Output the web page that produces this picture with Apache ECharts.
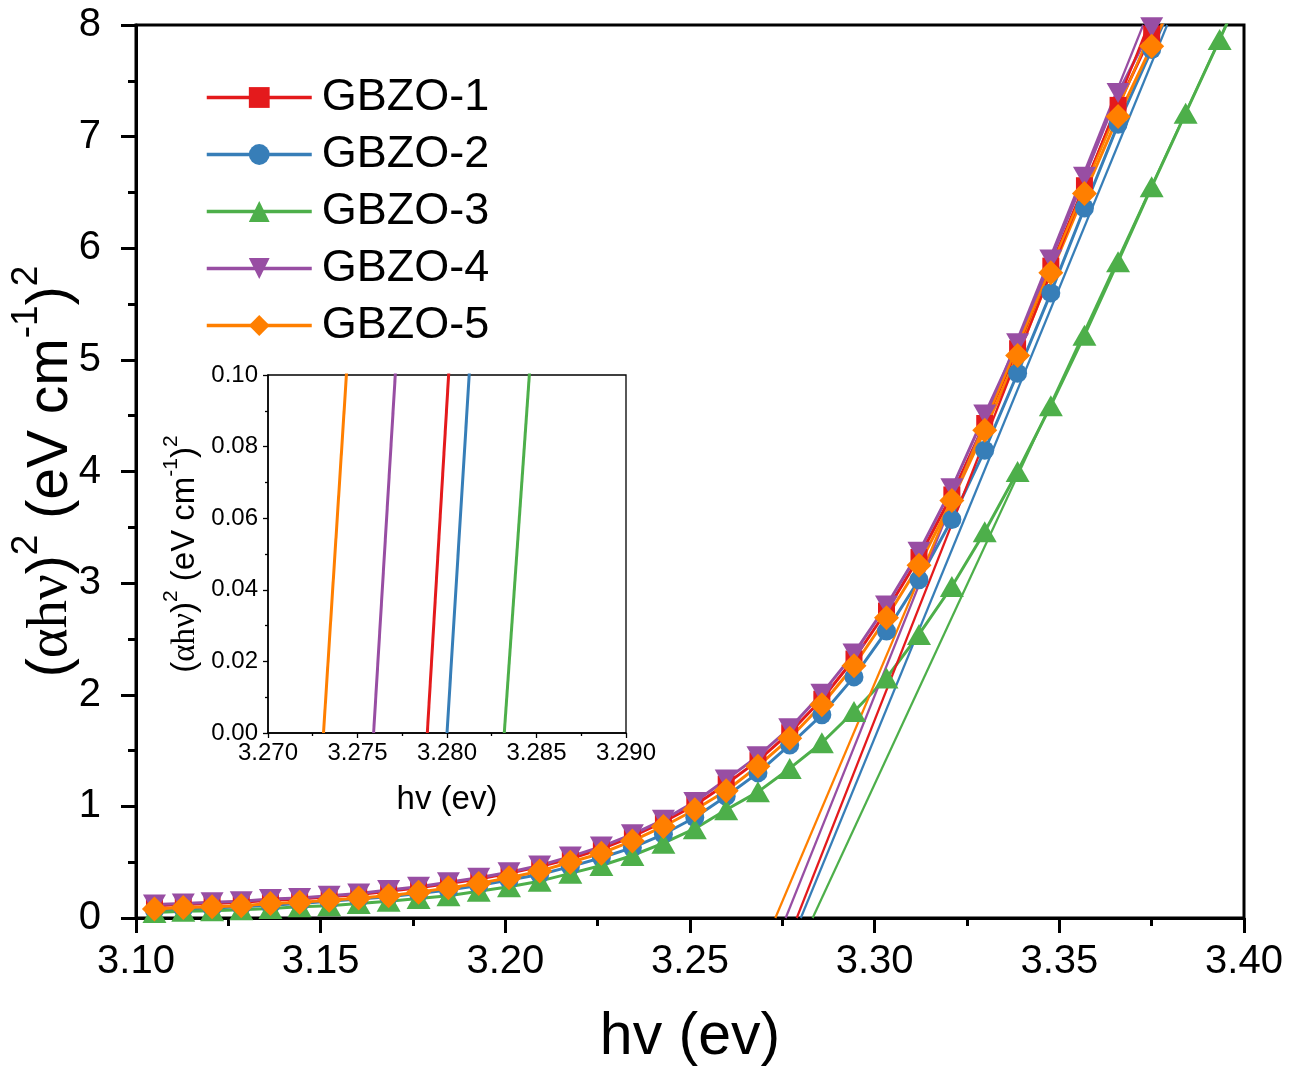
<!DOCTYPE html>
<html>
<head>
<meta charset="utf-8">
<script src="https://cdn.jsdelivr.net/npm/echarts@6/dist/echarts.min.js"></script>
<style>
  html, body { margin: 0; padding: 0; background: #ffffff; }
  #chart { width: 1293px; height: 1072px; }
</style>
</head>
<body>
<div id="chart"></div>
<script>
// photon energy of each measured point (eV)
var hv = [3.1050, 3.1128, 3.1206, 3.1285, 3.1364, 3.1443, 3.1523, 3.1603, 3.1684, 3.1765,
          3.1846, 3.1928, 3.2010, 3.2093, 3.2176, 3.2260, 3.2344, 3.2428, 3.2513, 3.2598,
          3.2684, 3.2770, 3.2857, 3.2944, 3.3032, 3.3120, 3.3209, 3.3298, 3.3387, 3.3477,
          3.3568, 3.3659, 3.3750, 3.3842, 3.3934, 3.4027];

// (alpha h nu)^2 values per sample
var gbzo1 = [0.11, 0.12, 0.13, 0.14, 0.16, 0.17, 0.19, 0.21, 0.24, 0.27, 0.31, 0.35, 0.40, 0.46, 0.53, 0.62, 0.73,
             0.86, 1.01, 1.20, 1.41, 1.66, 1.96, 2.32, 2.75, 3.23, 3.79, 4.43, 5.10, 5.84, 6.56, 7.28, 7.92, 8.6];
var gbzo2 = [0.07, 0.08, 0.09, 0.10, 0.115, 0.13, 0.15, 0.17, 0.19, 0.22, 0.25, 0.29, 0.34, 0.39, 0.46, 0.54, 0.63,
             0.75, 0.90, 1.09, 1.30, 1.55, 1.82, 2.16, 2.57, 3.03, 3.57, 4.19, 4.88, 5.60, 6.36, 7.11, 7.78, 8.45];
var gbzo3 = [0.05, 0.06, 0.065, 0.075, 0.085, 0.10, 0.11, 0.13, 0.15, 0.175, 0.20, 0.24, 0.28, 0.33, 0.40, 0.47, 0.56,
             0.67, 0.80, 0.97, 1.13, 1.34, 1.57, 1.85, 2.15, 2.54, 2.97, 3.46, 4.00, 4.59, 5.22, 5.88, 6.55, 7.21, 7.87, 8.55];
var gbzo4 = [0.12, 0.13, 0.14, 0.15, 0.17, 0.18, 0.20, 0.22, 0.25, 0.28, 0.32, 0.36, 0.41, 0.47, 0.55, 0.64, 0.75,
             0.88, 1.04, 1.24, 1.45, 1.70, 2.01, 2.37, 2.80, 3.28, 3.85, 4.51, 5.15, 5.90, 6.64, 7.39, 7.98, 8.7];
var gbzo5 = [0.08, 0.095, 0.10, 0.11, 0.13, 0.14, 0.16, 0.18, 0.20, 0.23, 0.27, 0.31, 0.36, 0.42, 0.50, 0.58, 0.69,
             0.82, 0.97, 1.14, 1.36, 1.61, 1.91, 2.26, 2.69, 3.16, 3.74, 4.37, 5.04, 5.78, 6.49, 7.18, 7.81, 8.45];

// linear (Tauc) fits: [x at y=0, x at y=8]
var fit1 = [3.2789, 3.3741];
var fit2 = [3.2800, 3.3792];
var fit3 = [3.2832, 3.3952];
var fit4 = [3.2759, 3.3727];
var fit5 = [3.2731, 3.3755];
var fitY = [0, 8];

var names = ['GBZO-1', 'GBZO-2', 'GBZO-3', 'GBZO-4', 'GBZO-5'];
var colors = ['#e41a1c', '#377eb8', '#4daf4a', '#984ea3', '#ff7f00'];
var values = [gbzo1, gbzo2, gbzo3, gbzo4, gbzo5];
var fits = [fit1, fit2, fit3, fit4, fit5];
var symbols = ['rect', 'circle', 'triangle', 'path://M0,0L2,0L1,1.732Z', 'diamond'];
var sizes = [[17, 17], [19, 19], [24, 21], [23, 20], [25, 25]];

var font = '"Liberation Sans", Arial, sans-serif';

function pairs(ys) {
    var out = [];
    for (var i = 0; i < ys.length; i++) {
        out.push([hv[i], ys[i]]);
    }
    return out;
}

var series = [];
for (var i = 0; i < names.length; i++) {
    series.push({
        name: names[i],
        type: 'line',
        data: pairs(values[i]),
        symbol: symbols[i],
        symbolSize: sizes[i],
        showAllSymbol: true,
        clip: true,
        color: colors[i],
        itemStyle: { color: colors[i] },
        lineStyle: { color: colors[i], width: 3 },
        emphasis: { disabled: true }
    });
}
for (var i = 0; i < fits.length; i++) {
    var line = [[fits[i][0], fitY[0]], [fits[i][1], fitY[1]]];
    series.push({
        type: 'line', data: line, showSymbol: false, symbol: 'none', clip: true,
        lineStyle: { color: colors[i], width: 2.2 }, emphasis: { disabled: true }
    });
    series.push({
        type: 'line', data: line, showSymbol: false, symbol: 'none', clip: true,
        xAxisIndex: 1, yAxisIndex: 1,
        lineStyle: { color: colors[i], width: 3 }, emphasis: { disabled: true }
    });
}

function yName(big, small, gap) {
    return {
        text: '{p|(}{g|\u03b1h\u03bd}{p|)}{s|2}{p| (eV cm}{s|-1}{p|)}{s|2}',
        rich: {
            p: { fontSize: big, fontFamily: font, color: '#000', lineHeight: big * 1.5 },
            g: { fontSize: big, fontFamily: '"Liberation Serif", serif', color: '#000', lineHeight: big * 1.5 },
            s: { fontSize: small, fontFamily: font, color: '#000', verticalAlign: 'top', lineHeight: small + gap }
        }
    };
}

var mainY = yName(57, 37, 4);
var insetY = yName(33, 21, 2);

var chart = echarts.init(document.getElementById('chart'));

var option = {
    animation: false,
    backgroundColor: '#ffffff',
    textStyle: { fontFamily: font },
    grid: [
        { left: 136, right: 49, top: 25, bottom: 154, show: true, borderColor: '#000', borderWidth: 3,
          containLabel: false, outerBoundsMode: 'none' },
        { left: 268, right: 667, top: 375, bottom: 339, show: true, borderColor: '#000', borderWidth: 1.3,
          containLabel: false, outerBoundsMode: 'none' }
    ],
    legend: {
        data: names,
        orient: 'vertical',
        left: 200,
        top: 70,
        itemWidth: 105,
        itemHeight: 26,
        itemGap: 12,
        selectedMode: false,
        lineStyle: { width: 3.5 },
        textStyle: { fontSize: 45, color: '#000', fontFamily: font, padding: [0, 0, 0, 5] }
    },
    xAxis: [
        {
            type: 'value', gridIndex: 0, min: 3.10, max: 3.40, interval: 0.05,
            name: 'hv (ev)', nameLocation: 'middle', nameGap: 90, nameMoveOverlap: false,
            nameTextStyle: { fontSize: 59, color: '#000', fontFamily: font },
            axisLine: { onZero: false, lineStyle: { color: '#000', width: 3 } },
            axisTick: { length: 15, lineStyle: { color: '#000', width: 3 } },
            minorTick: { show: true, splitNumber: 2, length: 8, lineStyle: { color: '#000', width: 3 } },
            splitLine: { show: false },
            axisLabel: { fontSize: 40, color: '#000', margin: 24, fontFamily: font,
                         formatter: function (v) { return v.toFixed(2); } }
        },
        {
            type: 'value', gridIndex: 1, min: 3.270, max: 3.290, interval: 0.005,
            name: 'hv (ev)', nameLocation: 'middle', nameGap: 50, nameMoveOverlap: false,
            nameTextStyle: { fontSize: 33, color: '#000', fontFamily: font },
            axisLine: { onZero: false, lineStyle: { color: '#000', width: 1.5 } },
            axisTick: { length: 5, lineStyle: { color: '#000', width: 1.3 } },
            minorTick: { show: true, splitNumber: 2, length: 3, lineStyle: { color: '#000', width: 1.3 } },
            splitLine: { show: false },
            axisLabel: { fontSize: 24, color: '#000', margin: 8, fontFamily: font,
                         formatter: function (v) { return v.toFixed(3); } }
        }
    ],
    yAxis: [
        {
            type: 'value', gridIndex: 0, min: 0, max: 8, interval: 1,
            name: mainY.text, nameLocation: 'middle', nameGap: 42, nameMoveOverlap: false,
            nameTextStyle: { rich: mainY.rich },
            axisLine: { onZero: false, lineStyle: { color: '#000', width: 3 } },
            axisTick: { length: 15, lineStyle: { color: '#000', width: 3 } },
            minorTick: { show: true, splitNumber: 2, length: 8, lineStyle: { color: '#000', width: 3 } },
            splitLine: { show: false },
            axisLabel: { fontSize: 40, color: '#000', margin: 35, fontFamily: font }
        },
        {
            type: 'value', gridIndex: 1, min: 0, max: 0.1, interval: 0.02,
            name: insetY.text, nameLocation: 'middle', nameGap: 58, nameMoveOverlap: false,
            nameTextStyle: { rich: insetY.rich },
            axisLine: { onZero: false, lineStyle: { color: '#000', width: 1.5 } },
            axisTick: { length: 5, lineStyle: { color: '#000', width: 1.3 } },
            minorTick: { show: true, splitNumber: 2, length: 3, lineStyle: { color: '#000', width: 1.3 } },
            splitLine: { show: false },
            axisLabel: { fontSize: 24, color: '#000', margin: 10, fontFamily: font,
                         formatter: function (v) { return v.toFixed(2); } }
        }
    ],
    series: series
};

chart.setOption(option);
</script>
</body>
</html>
